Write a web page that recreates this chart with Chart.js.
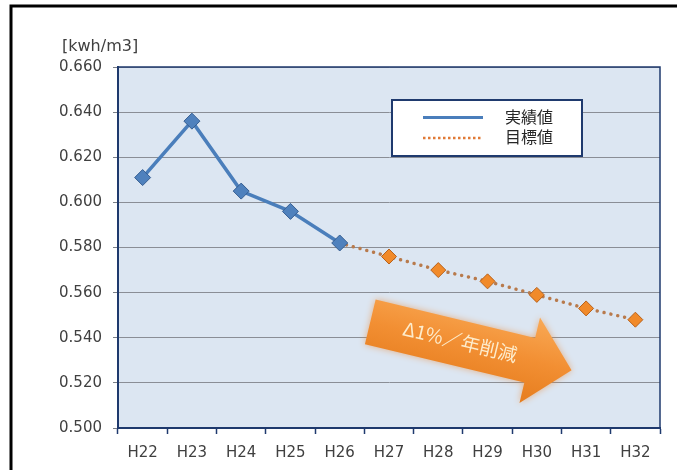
<!DOCTYPE html>
<html>
<head>
<meta charset="utf-8">
<script src="https://cdn.jsdelivr.net/npm/chart.js@4/dist/chart.umd.min.js"></script>
<style>
  html, body { margin: 0; padding: 0; background: #ffffff; }
  #wrap { width: 677px; height: 470px; }
</style>
</head>
<body>
<div id="wrap"><canvas id="c" width="677" height="470"></canvas></div>
<script>
// Fiscal years (Heisei) on the category axis
const years = ['H22', 'H23', 'H24', 'H25', 'H26', 'H27', 'H28', 'H29', 'H30', 'H31', 'H32'];
// Recorded energy intensity [kWh/m3]
const actual = [0.611, 0.636, 0.605, 0.596, 0.582, null, null, null, null, null, null];
// Target path (starts from the last recorded year)
const target = [null, null, null, null, 0.582, 0.576, 0.570, 0.565, 0.559, 0.553, 0.548];
const targetStart = 4;
// Value axis range
const yMin = 0.500, yMax = 0.660, yStep = 0.020;
// Texts
const seriesNames = ['実績値', '目標値'];
const unitLabel = '[kwh/m3]';
const arrowLabel = 'Δ1%／年削減';

const FONT = '"DejaVu Sans", "Noto Sans", sans-serif';
const JP_FONT = '"Noto Sans CJK JP", "Noto Sans", sans-serif';
const NAVY = '#1f3a6e';
const BLUE = '#4a7ebb';
const DOT = '#b87a4c';

// Plot background, frame, unit label
const framePlugin = {
  id: 'frame',
  beforeDraw(chart) {
    const { ctx, chartArea: a } = chart;
    ctx.save();
    ctx.fillStyle = '#ffffff';
    ctx.fillRect(0, 0, chart.width, chart.height);
    ctx.fillStyle = '#dce6f2';
    ctx.fillRect(a.left, a.top, a.right - a.left, a.bottom - a.top);
    ctx.restore();
  },
  afterDraw(chart) {
    const { ctx, chartArea: a } = chart;
    ctx.save();
    // plot area outline
    ctx.strokeStyle = NAVY;
    ctx.lineWidth = 1.5;
    ctx.strokeRect(a.left, a.top, a.right - a.left, a.bottom - a.top);
    // outer black border (top and left)
    ctx.strokeStyle = '#000000';
    ctx.lineWidth = 3;
    ctx.beginPath();
    ctx.moveTo(11, chart.height);
    ctx.lineTo(11, 6);
    ctx.lineTo(chart.width, 6);
    ctx.stroke();
    // unit label above the value axis
    ctx.fillStyle = '#404040';
    ctx.font = '16px ' + FONT;
    ctx.textAlign = 'left';
    ctx.textBaseline = 'middle';
    ctx.fillText(unitLabel, 62, 47);
    ctx.restore();
  }
};

// Legend box inside the plot
const legendPlugin = {
  id: 'boxLegend',
  afterDatasetsDraw(chart) {
    const { ctx } = chart;
    const x = 392, y = 100, w = 190, h = 56;
    ctx.save();
    ctx.fillStyle = '#ffffff';
    ctx.fillRect(x, y, w, h);
    ctx.strokeStyle = NAVY;
    ctx.lineWidth = 2;
    ctx.strokeRect(x, y, w, h);
    // solid sample
    ctx.strokeStyle = BLUE;
    ctx.lineWidth = 3;
    ctx.beginPath();
    ctx.moveTo(423, 117.5);
    ctx.lineTo(483, 117.5);
    ctx.stroke();
    // dotted sample
    ctx.strokeStyle = '#e07a36';
    ctx.lineWidth = 2.5;
    ctx.setLineDash([2.5, 2.5]);
    ctx.beginPath();
    ctx.moveTo(423, 138);
    ctx.lineTo(483, 138);
    ctx.stroke();
    ctx.setLineDash([]);
    ctx.fillStyle = '#262626';
    ctx.font = '16px ' + JP_FONT;
    ctx.textAlign = 'left';
    ctx.textBaseline = 'middle';
    const ds = chart.data.datasets;
    ctx.fillText(ds[0].label, 505, 117);
    ctx.fillText(ds[1].label, 505, 137);
    ctx.restore();
  }
};

// Reduction arrow annotation
const arrowPlugin = {
  id: 'reductionArrow',
  beforeDatasetsDraw(chart) {
    const { ctx } = chart;
    const xs = chart.scales.x, ys = chart.scales.y;
    // anchor: middle of the arrow tail, in scale units
    const ox = xs.getPixelForValue(4) + 0.62 * (xs.getPixelForValue(5) - xs.getPixelForValue(4));
    const oy = ys.getPixelForValue(0.547);
    const ang = 13.5 * Math.PI / 180;
    ctx.save();
    ctx.translate(ox, oy);
    ctx.rotate(ang);
    const shaftLen = 164, half = 23, headHalf = 44, tip = 207;
    ctx.beginPath();
    ctx.moveTo(0, -half);
    ctx.lineTo(shaftLen, -half);
    ctx.lineTo(shaftLen, -headHalf);
    ctx.lineTo(tip, 0);
    ctx.lineTo(shaftLen, headHalf);
    ctx.lineTo(shaftLen, half);
    ctx.lineTo(0, half);
    ctx.closePath();
    const g = ctx.createLinearGradient(0, -headHalf, 0, headHalf);
    g.addColorStop(0, '#f9a955');
    g.addColorStop(0.5, '#f28f33');
    g.addColorStop(1, '#e67d1e');
    ctx.shadowColor = 'rgba(235,130,40,0.55)';
    ctx.shadowBlur = 7;
    ctx.fillStyle = g;
    ctx.fill();
    ctx.shadowBlur = 0;
    ctx.fillStyle = '#fdeccc';
    ctx.font = '19px ' + JP_FONT;
    ctx.textAlign = 'center';
    ctx.textBaseline = 'middle';
    ctx.fillText(arrowLabel, 92, -2);
    ctx.restore();
  }
};

new Chart(document.getElementById('c'), {
  type: 'line',
  data: {
    labels: years,
    datasets: [
      {
        label: seriesNames[0],
        data: actual,
        order: 0,
        borderColor: BLUE,
        borderWidth: 3.5,
        pointStyle: 'rectRot',
        pointRadius: 8,
        pointBackgroundColor: '#4f81bd',
        pointBorderColor: '#375f92',
        pointBorderWidth: 1,
        tension: 0,
        spanGaps: false
      },
      {
        label: seriesNames[1],
        data: target,
        order: 1,
        borderColor: DOT,
        borderWidth: 3.5,
        borderDash: [0.01, 7],
        borderCapStyle: 'round',
        pointStyle: 'rectRot',
        pointRadius: target.map((v, i) => (i <= targetStart ? 0 : 7.5)),
        pointBackgroundColor: '#f18a2a',
        pointBorderColor: '#b8621c',
        pointBorderWidth: 1,
        tension: 0
      }
    ]
  },
  options: {
    responsive: false,
    animation: false,
    devicePixelRatio: 1,
    layout: { padding: { top: 67, right: 17, bottom: 0, left: 0 } },
    plugins: {
      legend: { display: false },
      tooltip: { enabled: false },
      title: { display: false }
    },
    scales: {
      x: {
        offset: true,
        afterFit(scale) { scale.height = 42; },
        grid: {
          offset: true,
          drawOnChartArea: false,
          drawTicks: true,
          tickLength: 6,
          tickColor: NAVY,
          tickWidth: 1.5
        },
        border: { color: NAVY, width: 2 },
        ticks: {
          color: '#404040',
          font: { family: FONT, size: 15 },
          padding: 10,
          maxRotation: 0,
          autoSkip: false
        }
      },
      y: {
        min: yMin,
        max: yMax,
        afterFit(scale) { scale.width = 118; },
        grid: {
          color: '#8a8e96',
          lineWidth: 1,
          drawTicks: true,
          tickLength: 5,
          tickColor: '#7a7e86'
        },
        border: { color: NAVY, width: 2 },
        ticks: {
          stepSize: yStep,
          color: '#404040',
          font: { family: FONT, size: 15 },
          padding: 11,
          callback: (v) => Number(v).toFixed(3)
        }
      }
    }
  },
  plugins: [framePlugin, arrowPlugin, legendPlugin]
});
</script>
</body>
</html>
